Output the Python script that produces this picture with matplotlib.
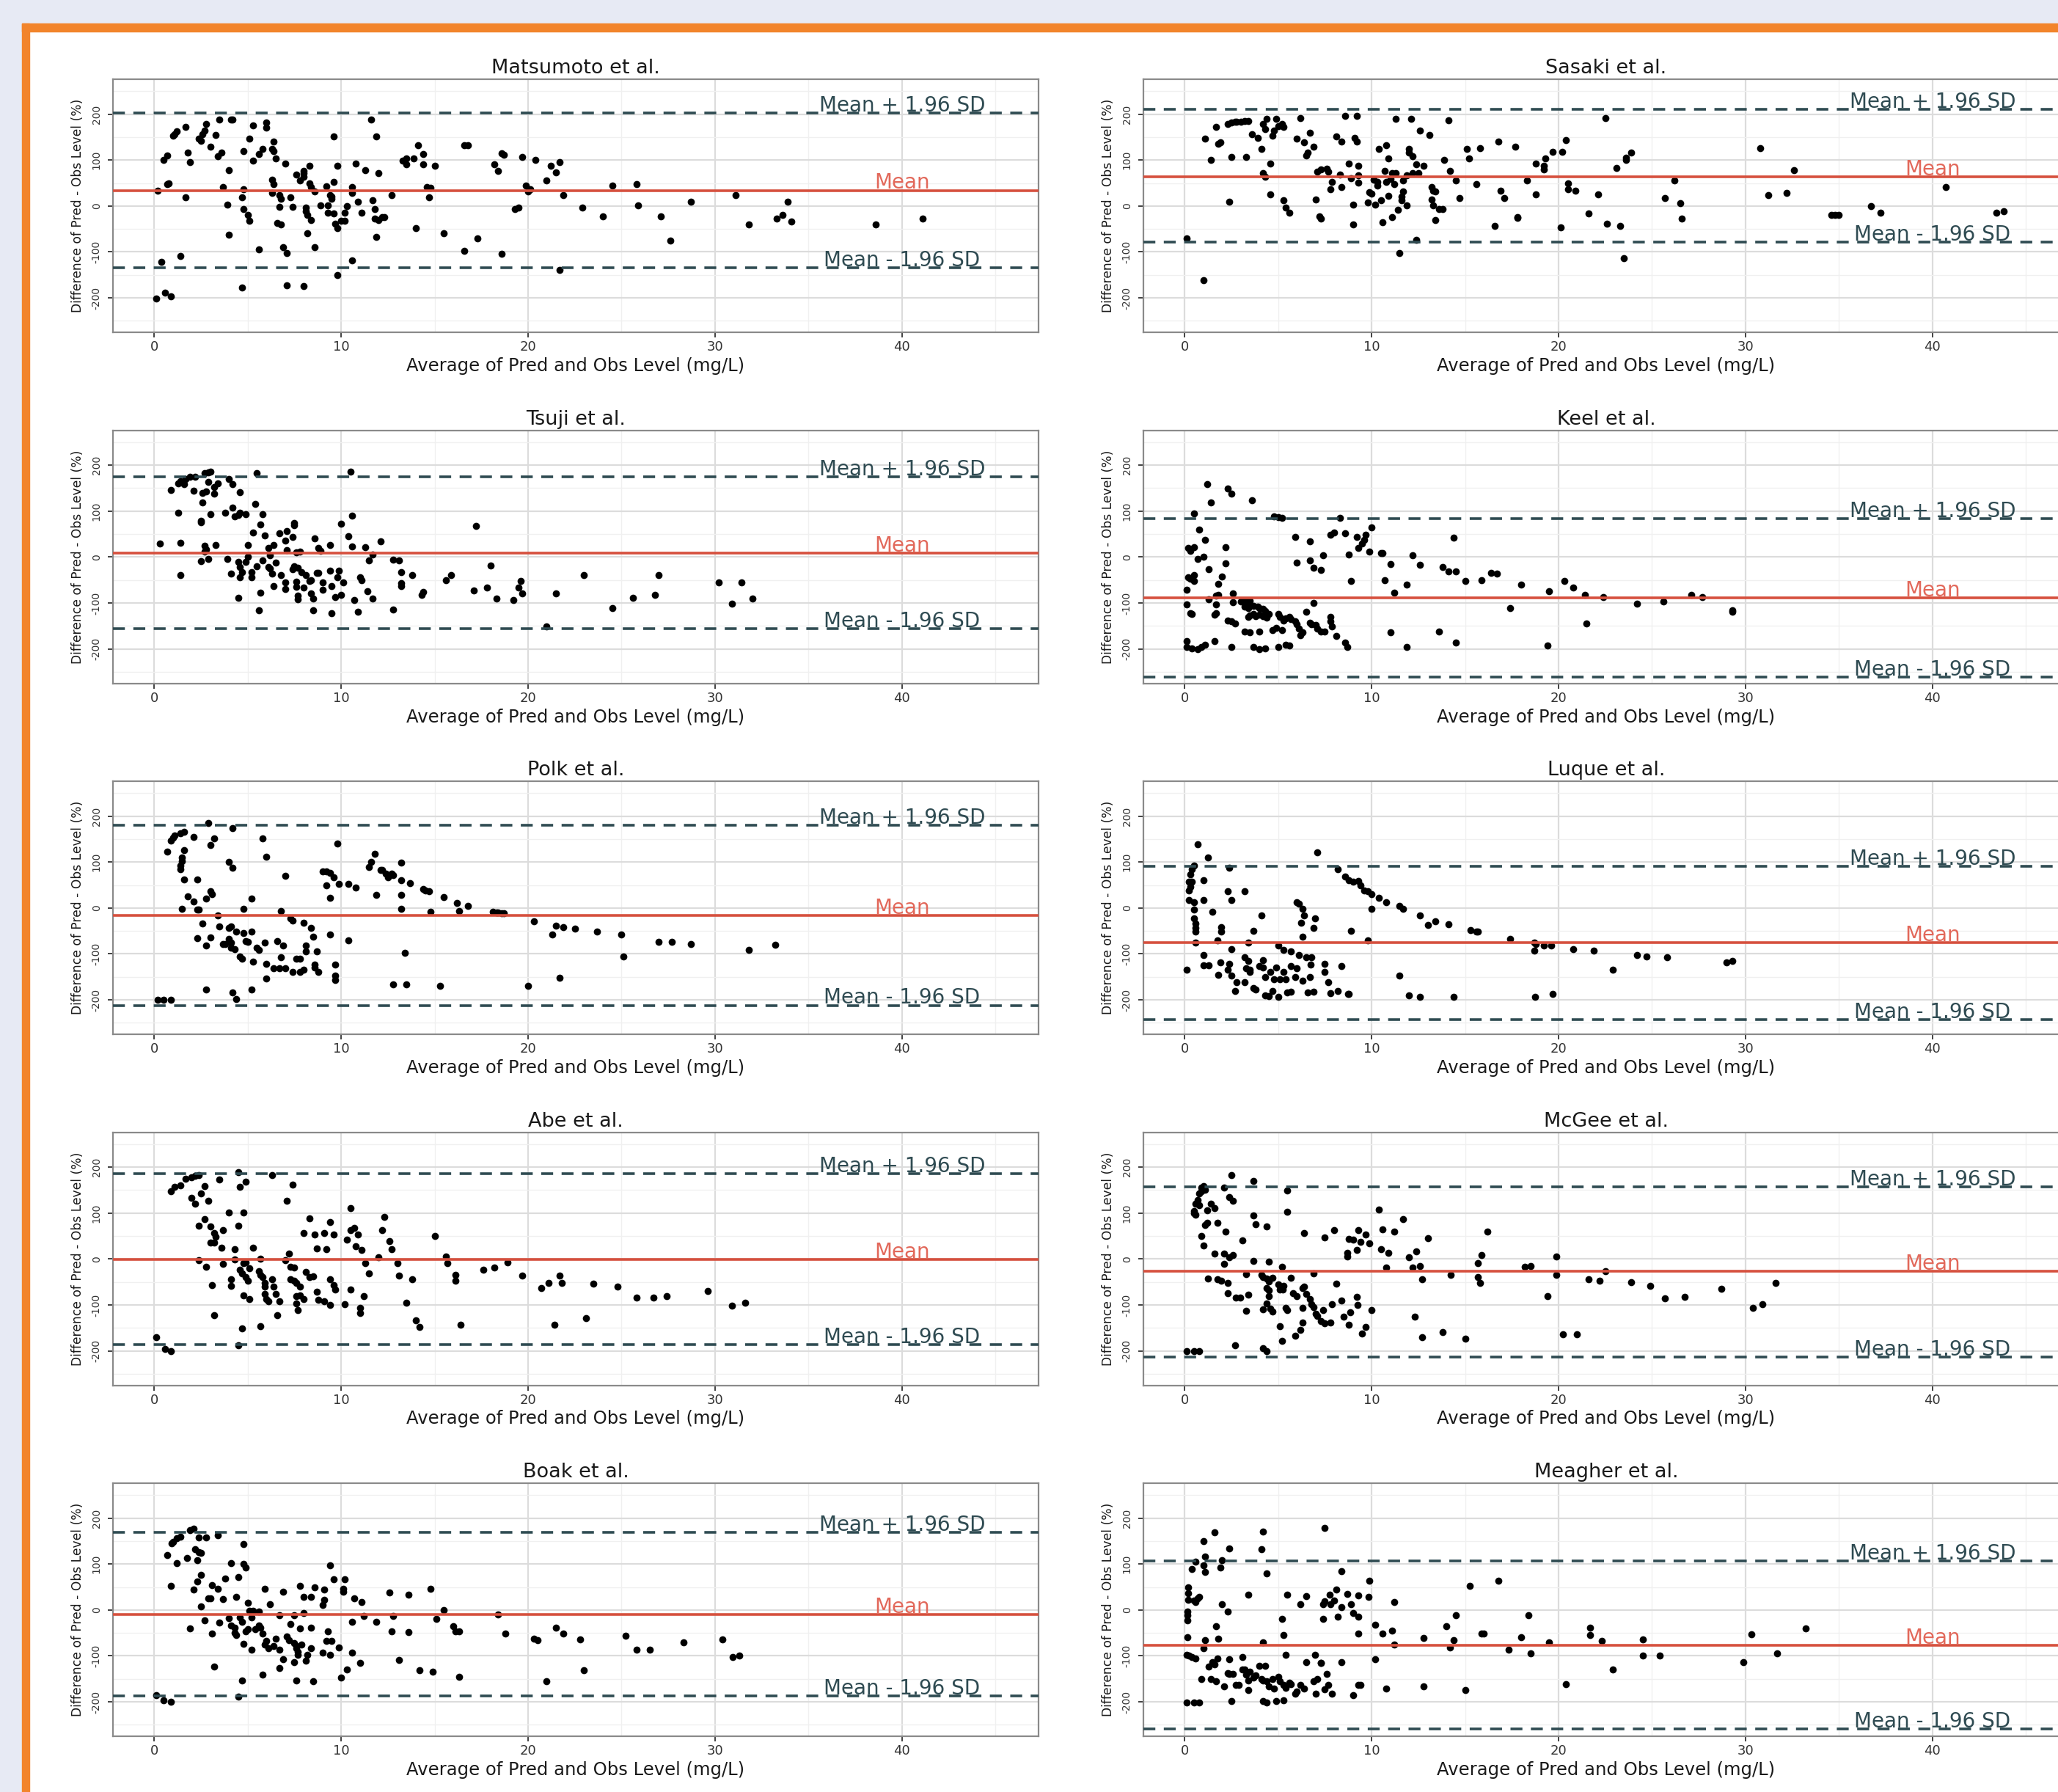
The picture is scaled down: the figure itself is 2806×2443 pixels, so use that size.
import numpy as np
import matplotlib.pyplot as plt
from matplotlib.patches import Rectangle

plt.rcParams['font.family'] = ['DejaVu Sans']

# ---- data --------------------------------------------------------------
titles = ['Matsumoto et al.', 'Sasaki et al.', 'Tsuji et al.', 'Keel et al.',
          'Polk et al.', 'Luque et al.', 'Abe et al.', 'McGee et al.',
          'Boak et al.', 'Meagher et al.']

means = [34, 64, 8.5, -88.5, -16.5, -75, -0.5, -26, -9.6, -77]
uppers = [203, 210, 174, 83, 180, 91, 186, 157, 169, 107]
lowers = [-134, -79, -156, -261, -212, -243, -187, -213, -187, -259]

x_ticks = [0, 10, 20, 30, 40]
y_ticks = [-200, -100, 0, 100, 200]

matsumoto = [(0.1,-201),(0.4,-121),(0.6,-188),(0.9,-197),(1.4,-109),(0.2,34),(0.5,101),(0.7,110),(0.7,48),(0.8,50),
    (1.0,153),(1.1,157),(1.2,163),(1.7,172),(1.7,19),(1.8,116),(1.9,96),(2.4,147),(2.5,142),(2.6,156),(2.7,164),
    (2.8,179),(3.0,129),(3.3,154),(3.4,109),(3.5,188),(3.6,116),(3.7,41),(4.0,-62),(3.9,3),(4.0,78),(4.1,188),
    (4.2,188),(4.7,-177),(4.8,120),(4.8,36),(4.7,19),(4.8,-6),(5.0,-19),(5.1,-32),(5.1,147),(5.3,176),(5.3,98),
    (5.6,113),(5.6,-95),(5.8,124),(6.0,171),(6.0,181),(6.3,124),(6.4,120),(6.4,140),(6.3,57),(6.4,48),(6.3,29),
    (6.5,104),(6.7,24),(6.8,16),(6.6,-37),(6.8,-40),(6.7,-2),(6.9,-90),(7.0,93),(7.1,-103),(7.1,-173),(7.3,19),
    (7.4,-2),(7.6,69),(7.8,55),(8.0,64),(8.0,77),(8.0,71),(8.0,-175),(8.1,-3),(8.1,-11),(8.2,-19),(8.2,-59),
    (8.3,88),(8.3,50),(8.4,42),(8.4,-30),(8.6,32),(8.6,-90),(8.9,2),(9.2,43),(9.3,2),(9.3,-14),(9.4,24),(9.5,21),
    (9.5,16),(9.6,53),(9.6,152),(9.6,-17),(9.7,-39),(9.8,-49),(9.8,88),(9.8,-150),(10.0,-32),(10.2,-32),
    (10.2,-14),(10.3,0),(10.6,29),(10.6,42),(10.6,-118),(10.8,93),(10.9,9),(11.1,-14),(11.3,78),(11.7,13),
    (11.8,-6),(11.8,-27),(11.9,-68),(11.6,188),(11.9,152),(12.0,71),(12.0,-30),(12.2,-25),(12.3,-24),(12.7,24),
    (13.3,98),(13.5,90),(13.5,104),(13.9,104),(14.1,133),(14.0,-48),(14.4,90),(14.4,113),(14.6,42),(14.8,40),
    (14.7,19),(15.0,88),(15.5,-60),(16.6,132),(16.8,132),(16.6,-97),(17.3,-71),(18.2,90),(18.4,77),(18.6,114),
    (18.7,112),(18.6,-104),(19.3,-6),(19.5,-3),(19.7,106),(19.9,45),(20.0,32),(20.1,37),(20.4,101),(21.0,55),
    (21.2,88),(21.5,73),(21.7,96),(21.7,-140),(21.9,24),(22.9,-4),(24.0,-22),(24.5,45),(25.8,48),(25.9,2),
    (27.1,-22),(27.6,-75),(28.7,9),(31.1,24),(31.8,-41),(33.3,-27),(33.6,-19),(33.9,9),(34.1,-34),(38.6,-41),
    (41.1,-27)]

sasaki = [(0.1,-70),(1.0,-162),(1.1,147),(1.4,101),(1.7,172),(1.8,136),(1.9,139),(2.3,178),(2.5,181),(2.7,183),
    (2.8,184),(3.0,184),(3.2,185),(3.4,185),(2.4,9),(2.5,106),(3.3,106),(3.6,157),(3.9,149),(4.2,179),(4.3,168),
    (4.4,189),(4.1,125),(4.2,72),(4.3,64),(4.6,26),(4.6,93),(4.7,153),(4.8,165),(4.9,189),(5.0,173),(5.2,178),
    (5.3,172),(5.3,12),(5.4,-3),(5.6,-14),(6.0,147),(6.2,192),(6.4,139),(6.5,110),(6.6,117),(6.7,160),(6.9,129),
    (7.0,14),(7.1,74),(7.3,80),(7.6,81),(7.7,74),(7.2,-22),(7.3,-27),(7.8,37),(7.9,53),(8.1,152),(8.3,69),
    (8.4,141),(8.6,196),(8.4,42),(8.9,61),(9.0,-40),(9.0,3),(9.1,149),(9.2,141),(9.3,66),(9.3,51),(9.2,196),
    (8.8,93),(9.3,88),(9.8,7),(9.9,30),(10.0,27),(10.1,57),(10.2,3),(10.3,45),(10.3,53),(10.4,125),(10.5,13),
    (10.6,-36),(10.7,77),(10.8,133),(10.9,104),(10.8,53),(10.9,22),(11.0,58),(11.1,72),(11.2,47),(11.3,72),
    (11.1,-24),(11.3,189),(11.4,-9),(11.5,-102),(11.6,13),(11.6,21),(11.7,32),(11.7,56),(11.9,2),(11.9,66),
    (12.0,125),(12.0,117),(12.1,189),(12.2,109),(12.2,72),(12.4,-73),(12.4,90),(12.5,72),(12.6,165),(12.8,88),
    (13.1,155),(13.2,42),(13.2,14),(13.3,2),(13.3,34),(13.4,32),(13.4,-31),(13.6,-6),(13.8,-6),(13.9,101),
    (14.1,187),(14.2,76),(14.5,56),(14.7,18),(15.1,124),(15.2,104),(15.6,47),(15.8,126),(16.6,-43),(16.8,140),
    (16.9,34),(17.1,18),(17.7,129),(17.8,-26),(17.8,-24),(18.3,55),(18.8,93),(18.8,25),(19.2,88),(19.2,80),
    (19.3,104),(19.7,118),(20.1,-46),(20.2,118),(20.4,144),(20.5,50),(20.5,37),(20.9,34),(21.6,-17),(22.1,25),
    (22.5,192),(22.6,-38),(23.1,82),(23.3,-43),(23.5,-113),(23.6,101),(23.6,105),(23.9,116),(25.7,17),(26.2,55),
    (26.5,6),(26.6,-27),(30.8,126),(31.2,24),(32.2,29),(32.6,78),(34.6,-19),(34.8,-19),(35.0,-19),(36.7,-1),
    (37.2,-14),(40.7,42),(43.4,-14),(43.8,-11)]

tsuji = [(0.3,29),(0.9,146),(1.3,96),(1.4,31),(1.4,-39),(1.3,161),(1.4,165),(1.6,159),(1.7,170),(1.9,175),(2.1,145),
    (2.2,174),(2.5,76),(2.5,79),(2.5,-9),(2.6,140),(2.6,118),(2.7,182),(2.8,17),(2.7,25),(2.7,12),(2.8,143),
    (2.9,-4),(2.9,163),(3.0,93),(2.9,184),(3.0,185),(3.2,152),(3.2,138),(3.3,26),(3.4,161),(3.8,96),(3.9,-4),
    (4.0,169),(4.2,158),(4.1,-36),(4.2,108),(4.3,88),(4.5,92),(4.6,97),(4.5,-10),(4.6,-22),(4.7,-33),(4.6,141),
    (4.5,-89),(4.6,-45),(4.9,93),(5.0,26),(5.0,1),(4.9,-11),(5.2,-33),(5.2,-45),(5.3,53),(5.4,116),(5.5,182),
    (5.5,-20),(5.6,-116),(5.7,-78),(5.7,70),(5.8,93),(5.8,-7),(5.9,47),(6.1,20),(6.1,-22),(6.2,4),(6.2,-25),
    (6.3,-36),(6.4,-63),(6.4,26),(6.5,-12),(6.7,52),(6.8,-40),(7.0,36),(7.0,-55),(7.0,-70),(7.1,15),(7.1,57),
    (7.4,44),(7.4,-27),(7.5,74),(7.5,69),(7.5,-20),(7.6,10),(7.7,-23),(7.6,-54),(7.6,-65),(7.7,-84),(7.7,-92),
    (7.8,12),(7.9,-33),(8.0,-67),(8.1,-39),(8.3,-53),(8.4,-50),(8.4,-79),(8.5,-90),(8.5,-116),(8.6,41),(8.7,-34),
    (8.8,-34),(8.8,20),(8.9,14),(9.0,-55),(9.0,-72),(9.4,26),(9.4,-30),(9.5,-122),(9.5,-63),(9.7,-87),(9.8,-45),
    (9.9,-30),(10.0,72),(10.0,-83),(10.1,-55),(10.4,45),(10.5,185),(10.6,90),(10.6,23),(10.7,-94),(10.9,-119),
    (11.0,-44),(11.1,-50),(11.3,21),(11.4,-74),(11.5,-7),(11.7,5),(11.7,-91),(12.1,34),(12.8,-6),(13.1,-7),
    (12.8,-114),(13.2,-57),(13.2,-63),(13.2,-33),(13.8,-39),(14.3,-82),(14.4,-76),(15.6,-50),(15.9,-40),
    (17.1,-73),(17.2,68),(17.8,-66),(18.0,-19),(18.3,-91),(19.2,-94),(19.5,-66),(19.6,-52),(19.7,-79),
    (21.0,-152),(21.5,-79),(23.0,-40),(24.5,-111),(25.6,-89),(26.8,-83),(27.0,-40),(30.2,-55),(30.9,-101),
    (31.4,-55),(32.0,-91)]

keel = [(1.2,158),(2.3,149),(2.5,138),(1.4,118),(3.6,124),(0.5,95),(4.8,88),(5.0,86),(5.2,85),(8.3,85),(0.8,60),
    (1.1,37),(0.2,20),(0.3,14),(0.5,21),(2.2,22),(0.7,-4),(1.0,1),(1.3,-27),(2.2,-14),(0.2,-44),(0.3,-47),
    (0.5,-39),(0.5,-53),(0.1,-71),(2.0,-42),(1.8,-58),(1.8,-82),(1.7,-84),(1.3,-92),(0.1,-104),(0.4,-124),
    (0.3,-122),(1.6,-126),(1.7,-123),(1.7,-103),(2.6,-79),(2.6,-98),(3.0,-97),(3.2,-95),(3.4,-97),(3.5,-95),
    (2.3,-138),(2.5,-140),(2.7,-145),(3.2,-108),(3.4,-111),(3.5,-106),(3.7,-106),(3.9,-108),(4.0,-111),
    (4.2,-113),(4.3,-118),(3.4,-130),(3.5,-127),(3.7,-124),(3.8,-129),(4.0,-126),(4.2,-129),(4.4,-132),
    (4.5,-124),(3.2,-162),(3.5,-164),(4.0,-162),(4.7,-159),(4.9,-154),(5.2,-159),(5.0,-124),(5.1,-131),
    (5.3,-138),(5.4,-134),(5.6,-131),(5.7,-135),(5.9,-140),(6.0,-146),(6.1,-156),(6.2,-170),(6.3,-164),
    (6.5,-119),(6.7,-143),(6.8,-146),(7.0,-148),(6.9,-100),(7.1,-156),(7.3,-162),(7.5,-162),(7.8,-130),
    (7.8,-140),(7.9,-151),(8.1,-172),(8.6,-186),(8.7,-196),(0.1,-183),(0.1,-196),(0.4,-199),(0.7,-200),
    (0.9,-196),(1.1,-191),(1.6,-183),(2.5,-196),(3.7,-196),(4.0,-200),(4.3,-199),(5.0,-196),(5.4,-191),
    (5.6,-193),(5.9,44),(6.0,-12),(6.7,34),(6.7,-7),(6.9,-24),(7.3,-29),(7.4,4),(7.8,49),(8.0,53),(8.6,51),
    (8.8,6),(8.9,-52),(9.2,44),(9.3,20),(9.5,30),(9.6,38),(9.7,49),(10.0,65),(9.9,12),(10.5,9),(10.6,9),
    (10.7,-50),(11.0,-15),(11.0,-164),(11.2,-78),(11.9,-60),(11.9,-196),(12.2,4),(12.6,-17),(13.6,-163),
    (13.8,-22),(14.1,-32),(14.5,-32),(14.4,42),(14.5,-187),(15.0,-52),(15.9,-51),(16.4,-35),(16.7,-37),
    (17.4,-111),(18.0,-60),(19.4,-193),(19.5,-74),(20.3,-52),(20.8,-66),(21.4,-82),(21.5,-145),(22.4,-88),
    (24.2,-101),(25.6,-97),(27.1,-82),(27.7,-87),(29.3,-119),(29.3,-116)]

polk = [(0.2,-200),(0.5,-200),(0.9,-200),(0.7,122),(0.9,147),(1.0,153),(1.1,158),(1.4,163),(1.6,166),(1.6,126),
    (1.5,110),(1.5,102),(1.4,92),(1.4,84),(1.6,62),(1.5,-2),(1.8,26),(2.1,154),(2.1,14),(2.3,-3),(2.4,-4),
    (2.3,62),(2.3,-65),(2.6,-34),(2.8,-82),(2.8,21),(2.8,-177),(2.9,185),(3.0,137),(3.2,152),(3.0,37),(3.1,30),
    (3.0,-64),(3.4,-17),(3.5,-40),(3.7,-79),(3.8,-78),(4.0,-44),(4.1,-41),(4.0,101),(4.2,88),(4.2,173),
    (4.0,-68),(4.1,-76),(4.1,-87),(4.3,-90),(4.2,-184),(4.4,-198),(4.4,-52),(4.6,-106),(4.7,-110),(4.8,-55),
    (4.8,-2),(4.9,-72),(5.0,-73),(5.2,21),(5.2,-52),(5.2,-177),(5.3,-117),(5.5,-87),(5.6,-92),(5.8,152),
    (6.0,111),(5.9,-75),(6.0,-154),(6.0,-121),(6.4,-131),(6.6,-72),(6.7,-131),(6.8,-108),(7.0,-131),(6.8,-6),
    (7.0,70),(6.9,-82),(7.3,-23),(7.4,-27),(7.4,-140),(7.6,-111),(7.8,-140),(7.8,-111),(8.0,-134),(8.0,-33),
    (8.1,-81),(8.1,-95),(8.4,-44),(8.5,-63),(8.6,-124),(8.6,-130),(8.8,-140),(8.7,-95),(9.0,79),(9.2,79),
    (9.4,77),(9.2,50),(9.4,22),(9.4,-58),(9.6,67),(9.7,-124),(9.7,-148),(9.7,-157),(9.8,141),(9.9,52),
    (10.4,52),(10.8,45),(10.4,-70),(11.5,89),(11.6,100),(11.8,118),(11.9,29),(12.1,82),(12.2,83),(12.4,75),
    (12.5,67),(12.7,74),(12.8,72),(12.8,-167),(13.5,-167),(13.2,99),(13.2,60),(13.2,29),(13.2,-2),(13.4,-98),
    (13.7,54),(14.4,42),(14.5,38),(14.7,36),(14.8,-9),(15.3,-170),(15.5,24),(16.2,11),(16.3,-7),(16.8,4),
    (18.1,-9),(18.3,-10),(18.4,-10),(18.6,-11),(18.7,-12),(20.0,-170),(20.3,-29),(21.3,-58),(21.5,-39),
    (21.7,-152),(21.9,-42),(22.5,-45),(23.7,-52),(25.0,-58),(25.1,-106),(27.0,-73),(27.7,-73),(28.7,-78),
    (31.8,-91),(33.2,-80)]

luque = [(0.7,139),(1.25,110),(7.1,121),(0.5,93),(0.4,84),(0.3,73),(0.25,57),(0.4,57),(0.3,46),(0.25,38),
    (1.0,60),(2.4,88),(0.25,17),(0.5,12),(0.5,-4),(0.5,-23),(0.6,-34),(0.6,-44),(0.6,-52),(0.6,-76),(1.0,17),
    (1.5,-9),(2.3,36),(3.2,36),(2.5,17),(4.1,-17),(1.97,-42),(1.97,-52),(3.7,-50),(1.75,-71),(3.4,-75),
    (2.5,-89),(1.0,-103),(0.1,-134),(1.0,-125),(1.3,-125),(1.8,-145),(1.9,-118),(2.3,-135),(2.4,-122),
    (2.5,-147),(2.7,-180),(2.8,-162),(3.2,-162),(3.2,-108),(3.4,-116),(3.3,-132),(3.5,-135),(3.5,-140),
    (3.7,-175),(3.8,-178),(4.0,-127),(4.2,-113),(4.2,-130),(4.3,-151),(4.3,-190),(4.5,-192),(4.7,-180),
    (5.0,-193),(4.6,-140),(4.8,-155),(4.9,-130),(5.1,-155),(5.3,-140),(5.4,-156),(5.0,-81),(5.3,-91),
    (5.7,-95),(5.5,-184),(5.7,-182),(5.7,-127),(5.9,-151),(6.0,-132),(6.1,-102),(6.3,-159),(6.5,-108),
    (6.7,-150),(6.6,-184),(6.9,-183),(6.75,-123),(6.8,-108),(6.0,12),(6.1,9),(6.3,-2),(6.4,-17),(6.97,-22),
    (6.25,-33),(6.9,-44),(6.3,-63),(7.5,-122),(7.5,-140),(7.7,-162),(7.8,-185),(8.2,-180),(8.75,-187),
    (8.8,-187),(8.4,-127),(8.2,85),(8.6,68),(8.8,61),(9.0,57),(9.3,58),(9.4,49),(9.6,38),(9.8,36),(10.0,30),
    (8.9,-50),(9.8,-71),(10.0,-2),(10.4,22),(10.8,13),(11.5,4),(11.7,-2),(11.5,-147),(12.0,-190),(12.6,-193),
    (12.6,-17),(13.0,-37),(13.4,-29),(14.1,-36),(14.4,-193),(15.3,-48),(15.6,-51),(15.7,-52),(17.4,-67),
    (18.7,-75),(18.8,-79),(19.2,-82),(19.6,-81),(18.7,-93),(18.75,-193),(19.7,-187),(20.8,-89),(21.9,-93),
    (22.9,-134),(24.2,-103),(24.7,-106),(25.8,-108),(29.0,-119),(29.3,-116)]

abe = [(0.1,-170),(0.6,-196),(0.9,-200),(0.9,147),(1.1,157),(1.4,160),(1.7,174),(2.0,177),(2.2,181),(2.4,182),
    (2.0,133),(2.2,121),(2.5,142),(2.7,158),(2.9,126),(2.4,73),(2.7,86),(3.0,70),(3.2,57),(3.3,49),(3.0,36),
    (3.2,36),(3.6,24),(3.7,62),(3.5,173),(4.0,101),(4.8,101),(4.5,189),(4.6,157),(4.9,168),(4.5,73),(4.3,22),
    (5.3,25),(2.4,-2),(2.8,-17),(3.7,-11),(3.1,-57),(4.1,-59),(4.1,-44),(3.2,-123),(4.3,-1),(4.8,-9),(4.9,-7),
    (5.1,-20),(4.6,-23),(4.7,-31),(4.9,-40),(5.0,-47),(4.8,-79),(5.1,-87),(4.7,-151),(4.5,-188),(5.6,-26),
    (5.7,-34),(5.8,-40),(5.9,-52),(5.9,-60),(5.7,1),(5.7,-146),(5.9,-76),(6.0,-87),(6.1,-92),(6.3,-44),
    (6.4,-60),(6.5,-76),(6.7,-92),(6.3,182),(6.6,-123),(7.0,-2),(7.2,12),(7.3,-17),(7.5,-19),(7.3,-44),
    (7.5,-48),(7.6,-52),(7.8,-60),(7.1,126),(7.4,162),(7.6,-81),(7.6,-97),(7.7,-111),(7.8,-79),(8.0,-87),
    (8.1,-29),(8.3,-40),(8.5,-38),(8.0,56),(8.6,53),(9.1,57),(9.6,53),(8.3,88),(8.7,23),(9.2,21),(8.7,-72),
    (8.8,-89),(9.1,-92),(9.4,-100),(9.4,81),(9.4,-44),(9.6,-57),(9.7,-66),(10.2,-98),(10.3,42),(10.5,63),
    (10.7,68),(10.9,54),(10.8,28),(11.1,20),(10.5,111),(10.5,-67),(11.0,-106),(11.0,-117),(11.2,-81),
    (11.3,-9),(11.5,-32),(12.0,4),(12.2,62),(12.3,92),(12.6,39),(12.7,22),(13.0,-9),(13.1,-36),(13.5,-95),
    (13.8,-44),(14.0,-134),(14.2,-148),(15.0,50),(15.6,5),(15.7,-9),(16.1,-34),(16.1,-47),(16.4,-143),
    (17.6,-24),(18.2,-19),(18.9,-7),(19.7,-36),(20.7,-63),(21.1,-52),(21.7,-36),(21.8,-52),(21.4,-143),
    (23.1,-129),(23.5,-54),(24.8,-60),(25.8,-84),(26.7,-84),(27.4,-81),(29.6,-70),(30.9,-101),(31.6,-95)]

mcgee = [(0.1,-200),(0.5,-200),(0.8,-200),(2.5,182),(3.7,170),(0.9,156),(1.0,158),(0.9,148),(0.8,142),(1.1,150),
    (2.1,156),(5.5,149),(0.7,129),(0.6,121),(0.8,117),(2.4,134),(2.6,127),(1.4,121),(1.6,110),(1.2,106),
    (0.5,104),(0.5,100),(0.6,97),(5.5,103),(3.7,95),(1.75,78),(1.1,74),(1.2,78),(3.8,76),(4.4,70),(2.2,60),
    (3.1,40),(0.9,50),(1.0,29),(1.6,12),(2.1,12),(2.6,9),(2.4,4),(2.1,-11),(3.7,-4),(4.5,-6),(5.2,-17),
    (1.25,-42),(1.75,-45),(1.97,-47),(2.3,-52),(2.3,-75),(2.75,-84),(2.97,-84),(3.4,-78),(3.3,-33),(4.1,-34),
    (4.2,-39),(4.4,-43),(4.5,-49),(4.4,-63),(4.5,-68),(4.5,-81),(4.4,-97),(4.7,-41),(5.0,-55),(5.1,-66),
    (5.25,-66),(5.3,-58),(4.6,-108),(5.1,-146),(5.2,-178),(3.3,-113),(4.2,-109),(4.7,-115),(2.7,-188),
    (4.2,-194),(4.4,-201),(5.4,-106),(5.5,-111),(5.7,-41),(5.8,-75),(5.9,-167),(6.2,-154),(6.3,-138),(6.0,-81),
    (6.3,-63),(6.4,-60),(6.5,-76),(6.7,-87),(6.3,-106),(6.8,-98),(6.9,-105),(7.0,-119),(6.9,-31),(7.1,-124),
    (7.3,-135),(7.4,-111),(7.5,-140),(7.8,-138),(7.9,-98),(8.1,-54),(8.4,-90),(8.5,-125),(8.8,-143),
    (8.85,-116),(9.25,-100),(9.2,-82),(9.5,-162),(9.7,-148),(10.0,-111),(6.4,57),(7.5,47),(8.0,62),(8.7,6),
    (8.7,14),(8.8,44),(9.0,42),(9.2,20),(9.3,62),(9.4,38),(9.7,53),(9.9,34),(10.4,108),(10.5,22),(10.6,65),
    (10.9,14),(10.8,-19),(11.2,60),(11.7,86),(12.0,4),(12.2,-19),(12.4,17),(12.6,-16),(12.7,-44),(13.0,45),
    (12.3,-126),(12.7,-170),(13.8,-159),(15.0,-174),(14.25,-34),(15.7,-9),(15.8,-52),(15.7,-39),(15.9,9),
    (16.2,60),(18.2,-17),(18.5,-15),(19.4,-81),(19.9,6),(19.9,-35),(20.25,-164),(21.0,-164),(21.6,-44),
    (22.2,-47),(22.5,-26),(23.9,-50),(24.9,-58),(25.7,-85),(26.75,-83),(28.7,-65),(30.4,-106),(30.9,-98),
    (31.6,-52)]

boak = [(0.1,-186),(0.5,-196),(0.9,-200),(4.5,-188),(0.7,120),(0.9,52),(0.95,145),(1.0,149),(1.2,156),(1.2,102),
    (1.4,159),(1.75,113),(1.9,173),(2.1,177),(2.1,45),(2.2,132),(2.3,108),(2.4,126),(2.5,124),(2.3,62),
    (2.4,158),(2.8,158),(3.4,163),(2.5,77),(2.5,8),(2.7,-22),(2.9,26),(3.0,26),(3.1,54),(3.4,46),(3.7,23),
    (3.5,-28),(3.1,-52),(3.2,-124),(1.9,-41),(3.8,69),(4.5,71),(4.4,28),(4.1,102),(4.8,101),(4.9,93),(4.8,143),
    (4.0,-18),(4.1,-34),(4.3,-39),(4.3,-50),(4.4,-55),(4.6,-17),(4.7,-26),(5.0,15),(5.1,-2),(5.2,-17),(5.3,-2),
    (5.6,-4),(4.8,-74),(4.9,-47),(5.0,-42),(5.2,-87),(5.4,-42),(4.7,-153),(5.6,-34),(5.7,-39),(5.8,-52),
    (5.9,46),(5.9,-75),(6.0,-68),(6.1,-84),(6.2,13),(5.8,-141),(6.4,-79),(6.5,-63),(6.7,-12),(6.7,-87),
    (6.9,39),(6.9,-108),(6.7,-127),(7.1,-57),(7.2,-66),(7.3,-30),(7.5,-72),(7.6,-79),(7.6,-84),(7.7,-92),
    (7.5,-12),(7.5,-113),(7.6,-154),(7.7,-98),(7.8,-40),(7.8,52),(8.0,28),(7.9,-76),(8.0,-7),(8.1,-111),
    (8.2,-98),(8.4,-84),(8.4,-38),(8.5,-155),(8.6,49),(8.4,28),(9.0,-93),(9.1,44),(9.0,11),(9.1,22),(9.2,-68),
    (9.3,-47),(9.4,-97),(9.4,97),(9.5,-68),(9.6,67),(9.9,-82),(10.0,-147),(10.1,46),(10.1,40),(10.2,67),
    (10.3,-130),(10.6,-93),(10.6,-26),(10.7,26),(11.0,-115),(11.1,17),(11.2,-13),(11.9,-26),(12.6,38),
    (12.7,-46),(12.8,-13),(13.1,-109),(13.6,-49),(13.6,33),(14.2,-132),(14.8,46),(14.9,-135),(15.1,-20),
    (15.5,-1),(16.0,-36),(16.1,-46),(16.3,-47),(16.3,-145),(18.4,-10),(18.8,-51),(20.3,-63),(20.5,-66),
    (21.0,-155),(21.5,-38),(21.9,-51),(22.8,-64),(23.0,-132),(25.2,-56),(25.8,-87),(26.5,-87),(28.3,-71),
    (30.4,-64),(30.95,-102),(31.3,-99)]

meagher = [(0.1,-201),(0.5,-201),(0.8,-201),(2.5,-198),(4.2,-198),(4.4,-201),(4.9,-198),(5.3,-196),(1.6,169),
    (4.2,170),(7.5,178),(1.0,150),(2.4,134),(4.1,133),(1.1,117),(0.6,105),(2.0,108),(0.4,89),(1.0,97),(1.1,82),
    (1.9,92),(4.4,79),(8.4,85),(9.9,63),(16.8,63),(15.25,52),(0.2,49),(0.2,36),(0.2,22),(0.7,25),(0.8,29),
    (0.6,17),(0.5,20),(3.4,33),(2.0,13),(2.3,-3),(0.15,-4),(0.15,-12),(0.15,-22),(1.7,-35),(5.5,33),(6.2,13),
    (6.5,30),(5.2,-20),(5.3,-55),(7.4,13),(7.5,19),(7.75,33),(7.8,12),(8.0,21),(8.1,44),(8.4,6),(8.7,35),
    (8.9,13),(9.0,-6),(9.3,31),(9.85,28),(9.3,-15),(7.4,-19),(8.2,-15),(9.3,-51),(11.2,18),(10.2,-33),
    (10.6,-51),(11.1,-45),(0.15,-60),(1.1,-66),(1.8,-63),(1.0,-83),(4.2,-71),(11.2,-76),(12.8,-61),(14.0,-35),
    (14.4,-66),(14.2,-81),(14.5,-12),(15.9,-51),(16.0,-51),(17.35,-86),(18.0,-59),(18.4,-12),(18.5,-94),
    (19.5,-71),(21.7,-38),(21.7,-55),(22.3,-68),(24.5,-99),(24.5,-64),(25.4,-99),(29.9,-113),(30.3,-53),
    (31.7,-94),(33.2,-40),(20.4,-161),(22.9,-130),(10.2,-107),(12.8,-166),(15.0,-175),(10.8,-171),
    (0.1,-98),(0.25,-100),(0.4,-103),(0.6,-106),(1.3,-124),(1.5,-114),(1.6,-119),(1.75,-106),(2.4,-107),
    (3.1,-102),(0.9,-150),(1.4,-150),(1.7,-155),(2.1,-167),(2.3,-138),(2.4,-139),(2.6,-140),(2.75,-163),
    (2.9,-163),(3.1,-130),(3.2,-129),(3.3,-141),(3.4,-154),(3.4,-175),(3.5,-134),(3.7,-147),(3.8,-143),
    (4.0,-122),(4.1,-151),(4.2,-154),(4.3,-122),(4.4,-156),(4.5,-166),(4.7,-151),(4.8,-171),(5.0,-145),
    (5.1,-156),(5.3,-164),(5.4,-170),(5.6,-159),(5.7,-162),(5.9,-182),(6.0,-178),(6.2,-164),(6.4,-171),
    (6.5,-113),(6.9,-156),(7.0,-182),(7.1,-151),(7.3,-116),(7.5,-172),(7.6,-140),(7.7,-163),(7.9,-182),
    (8.4,-114),(9.0,-186),(9.3,-164),(9.4,-164),(6.97,-98),(7.3,-115),(5.4,-97)]

panels = [matsumoto, sasaki, tsuji, keel, polk, luque, abe, mcgee, boak, meagher]

# ---- styling ---------------------------------------------------------------
W, H = 2806, 2443
BAND = '#E7EAF4'
ORANGE = '#F2842B'
SLATE = '#2F4B52'
RED = '#D6503E'
RED_TXT = '#E2685A'
GRID = '#DCDCDC'
GRID_MIN = '#F0F0F0'

fig = plt.figure(figsize=(W / 100, H / 100), dpi=100, facecolor='white')

# page decoration: light band at top/left and the orange frame
fig.patches.append(Rectangle((0, 1 - 32 / H), 1, 32 / H, transform=fig.transFigure,
                             color=BAND, zorder=0))
fig.patches.append(Rectangle((0, 0), 30 / W, 1, transform=fig.transFigure,
                             color=BAND, zorder=0))
fig.patches.append(Rectangle((30 / W, 1 - 43 / H), 1, 11 / H, transform=fig.transFigure,
                             color=ORANGE, zorder=1))
fig.patches.append(Rectangle((30 / W, 0), 10 / W, 1 - 32 / H, transform=fig.transFigure,
                             color=ORANGE, zorder=1))

col_left = [154, 1559]
pw, ph = 1262, 345

for i, pts in enumerate(panels):
    r, c = divmod(i, 2)
    top = 108 + 478.5 * r
    ax = fig.add_axes([col_left[c] / W, 1 - (top + ph) / H, pw / W, ph / H])
    ax.set_facecolor('white')
    ax.set_xlim(-2.2, 47.3)
    ax.set_ylim(-275, 276)

    ax.set_xticks(x_ticks)
    ax.set_xticks([5, 15, 25, 35, 45], minor=True)
    ax.set_yticks(y_ticks)
    ax.set_yticks([-250, -150, -50, 50, 150, 250], minor=True)
    ax.set_yticklabels([str(v) for v in y_ticks])
    ax.grid(True, which='major', color=GRID, lw=1.6, zorder=0)
    ax.grid(True, which='minor', color=GRID_MIN, lw=1.0, zorder=0)
    ax.set_axisbelow(True)
    ax.tick_params(which='major', length=5, width=1.3, color='#333333',
                   labelsize=13, labelcolor='#333333')
    ax.tick_params(axis='x', pad=3)
    ax.tick_params(axis='y', pad=6, labelsize=10)
    ax.tick_params(which='minor', length=0)
    for lab in ax.get_yticklabels():
        lab.set_rotation(90)
        lab.set_va('center')
    for s in ax.spines.values():
        s.set_color('#8A8A8A')
        s.set_linewidth(1.6)

    arr = np.array(pts)
    ax.plot(arr[:, 0], arr[:, 1], 'o', color='black', ms=7, mew=0, zorder=3)

    ax.axhline(means[i], color=RED, lw=2.6, zorder=4)
    ax.axhline(uppers[i], color=SLATE, lw=2.6, ls=(0, (4.5, 3.2)), zorder=4)
    ax.axhline(lowers[i], color=SLATE, lw=2.6, ls=(0, (4.5, 3.2)), zorder=4)

    ax.annotate('Mean + 1.96 SD', (40, uppers[i]), xytext=(0, 1.5), textcoords='offset points',
                ha='center', va='baseline', fontsize=20, color=SLATE, zorder=5)
    ax.annotate('Mean', (40, means[i]), xytext=(0, 1.5), textcoords='offset points',
                ha='center', va='baseline', fontsize=20, color=RED_TXT, zorder=5)
    ax.annotate('Mean - 1.96 SD', (40, lowers[i]), xytext=(0, 1.5), textcoords='offset points',
                ha='center', va='baseline', fontsize=20, color=SLATE, zorder=5)

    ax.set_title(titles[i], fontsize=19.5, color='#1A1A1A', y=1 + 15 / ph, pad=0, va='center')
    ax.set_xlabel('Average of Pred and Obs Level (mg/L)', fontsize=17.5, color='#1A1A1A')
    ax.xaxis.set_label_coords(0.5, -46 / ph)
    ax.xaxis.label.set_va('center')
    ax.set_ylabel('Difference of Pred - Obs Level (%)', fontsize=12.3, color='#1A1A1A')
    ax.yaxis.set_label_coords(-48 / pw, 0.5)
    ax.yaxis.label.set_va('center')

fig.savefig('out.png', dpi=100, facecolor='white')
